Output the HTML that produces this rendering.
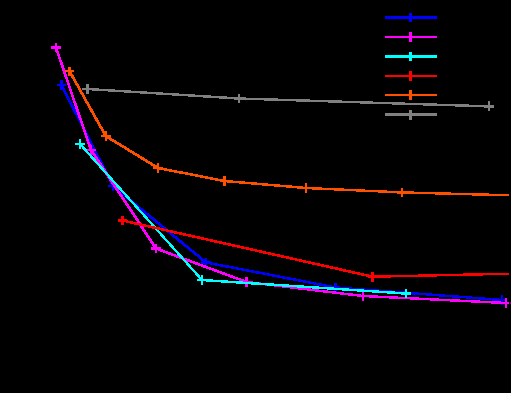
<!DOCTYPE html>
<html><head><meta charset="utf-8"><title>chart</title>
<style>html,body{margin:0;padding:0;background:#000;overflow:hidden}svg{display:block}</style></head>
<body>
<svg width="511" height="393" viewBox="0 0 511 393" shape-rendering="crispEdges">
<rect x="0" y="0" width="511" height="393" fill="#000"/>
<clipPath id="c"><rect x="0" y="0" width="509" height="393"/></clipPath>
<g fill="none" stroke="#0000ff" stroke-linecap="round" clip-path="url(#c)">
<line x1="61.5" y1="85" x2="113" y2="186" stroke-width="2.75"/>
<line x1="113" y1="186" x2="206" y2="262.45" stroke-width="2.81"/>
<line x1="206" y1="262.45" x2="335.5" y2="287.5" stroke-width="2.57"/>
<line x1="335.5" y1="287.5" x2="502" y2="300" stroke-width="2.47"/>
</g>
<g fill="none" stroke="#0000ff">
<path d="M56.6 85H66.4M61.5 80.1V89.9" stroke-width="2.4"/>
<path d="M108.1 186H117.9M113 181.1V190.9" stroke-width="2.4"/>
<path d="M201.1 262.45H210.9M206 257.55V267.35" stroke-width="2.4"/>
<path d="M330.6 287.5H340.4M335.5 282.6V292.4" stroke-width="2.4"/>
<path d="M497.1 300H506.9M502 295.1V304.9" stroke-width="2.4"/>
</g>
<rect x="385" y="16" width="52" height="3" fill="#0000ff"/><rect x="409" y="13" width="3" height="9" fill="#0000ff"/>
<g fill="none" stroke="#ff00ff" stroke-linecap="round" clip-path="url(#c)">
<line x1="56" y1="47.5" x2="91" y2="150" stroke-width="2.67"/>
<line x1="91" y1="150" x2="156" y2="248.5" stroke-width="2.79"/>
<line x1="156" y1="248.5" x2="246.5" y2="282" stroke-width="2.68"/>
<line x1="246.5" y1="282" x2="363" y2="296" stroke-width="2.51"/>
<line x1="363" y1="296" x2="506" y2="303" stroke-width="2.45"/>
</g>
<g fill="none" stroke="#ff00ff">
<path d="M51.1 47.5H60.9M56 42.6V52.4" stroke-width="2.4"/>
<path d="M86.1 150H95.9M91 145.1V154.9" stroke-width="2.4"/>
<path d="M151.1 248.5H160.9M156 243.6V253.4" stroke-width="2.4"/>
<path d="M241.6 282H251.4M246.5 277.1V286.9" stroke-width="2.4"/>
<path d="M358.1 296H367.9M363 291.1V300.9" stroke-width="2.4"/>
<path d="M501.1 303H510.9M506 298.1V307.9" stroke-width="2.4"/>
</g>
<rect x="385" y="36" width="52" height="2" fill="#ff00ff"/><rect x="409" y="32" width="3" height="10" fill="#ff00ff"/>
<g fill="none" stroke="#00ffff" stroke-linecap="round" clip-path="url(#c)">
<line x1="80" y1="144" x2="202" y2="280" stroke-width="2.41"/>
<line x1="202" y1="280" x2="406" y2="293.5" stroke-width="2.46"/>
</g>
<g fill="none" stroke="#00ffff">
<path d="M75.1 144H84.9M80 139.1V148.9" stroke-width="2.4"/>
<path d="M197.1 280H206.9M202 275.1V284.9" stroke-width="2.4"/>
<path d="M401.1 293.5H410.9M406 288.6V298.4" stroke-width="2.4"/>
</g>
<rect x="385" y="55" width="52" height="3" fill="#00ffff"/><rect x="409" y="52" width="3" height="9" fill="#00ffff"/>
<g fill="none" stroke="#ff0000" stroke-linecap="round" clip-path="url(#c)">
<line x1="122.5" y1="220.5" x2="372.5" y2="276.7" stroke-width="2.59"/>
<line x1="372.5" y1="276.7" x2="512" y2="273.66" stroke-width="2.42"/>
</g>
<g fill="none" stroke="#ff0000">
<path d="M117.6 220.5H127.4M122.5 215.6V225.4" stroke-width="2.4"/>
<path d="M367.6 276.7H377.4M372.5 271.8V281.6" stroke-width="2.4"/>
</g>
<rect x="385" y="75" width="52" height="2" fill="#ff0000"/><rect x="409" y="71" width="3" height="10" fill="#ff0000"/>
<g fill="none" stroke="#ff5000" stroke-linecap="round" clip-path="url(#c)">
<line x1="69.45" y1="71" x2="105.75" y2="136" stroke-width="2.76"/>
<line x1="105.75" y1="136" x2="158" y2="168" stroke-width="2.78"/>
<line x1="158" y1="168" x2="224.5" y2="181" stroke-width="2.57"/>
<line x1="224.5" y1="181" x2="306" y2="188" stroke-width="2.48"/>
<line x1="306" y1="188" x2="402" y2="192.4" stroke-width="2.44"/>
<line x1="402" y1="192.4" x2="512" y2="195.35" stroke-width="2.43"/>
</g>
<g fill="none" stroke="#ff5000">
<path d="M64.55 71H74.35M69.45 66.6V76.4" stroke-width="2.4"/>
<path d="M100.85 136H110.65M105.75 131.1V140.9" stroke-width="2.4"/>
<path d="M153.1 168H162.9M158 163.1V172.9" stroke-width="2.4"/>
<path d="M219.6 181H229.4M224.5 176.1V185.9" stroke-width="2.4"/>
<path d="M301.1 188H310.9M306 183.1V192.9" stroke-width="2.4"/>
<path d="M397.1 192.4H406.9M402 187.5V197.3" stroke-width="2.4"/>
</g>
<rect x="385" y="94" width="52" height="2" fill="#ff5000"/><rect x="409" y="90" width="3" height="10" fill="#ff5000"/>
<g fill="none" stroke="#808080" stroke-linecap="round" clip-path="url(#c)">
<line x1="87.35" y1="89" x2="239" y2="98.5" stroke-width="2.46"/>
<line x1="239" y1="98.5" x2="489" y2="106.35" stroke-width="2.43"/>
</g>
<g fill="none" stroke="#808080">
<path d="M82.45 89H92.25M87.35 84.1V93.9" stroke-width="2.4"/>
<path d="M234.1 98.5H243.9M239 93.6V103.4" stroke-width="2.4"/>
<path d="M484.1 106.35H493.9M489 101.45V111.25" stroke-width="2.4"/>
</g>
<rect x="385" y="113" width="52" height="3" fill="#808080"/><rect x="409" y="110" width="3" height="10" fill="#808080"/>
<rect x="509" y="0" width="1" height="393" fill="#000"/>
<rect x="510" y="302" width="1" height="2" fill="#700070"/>
</svg>
</body></html>
